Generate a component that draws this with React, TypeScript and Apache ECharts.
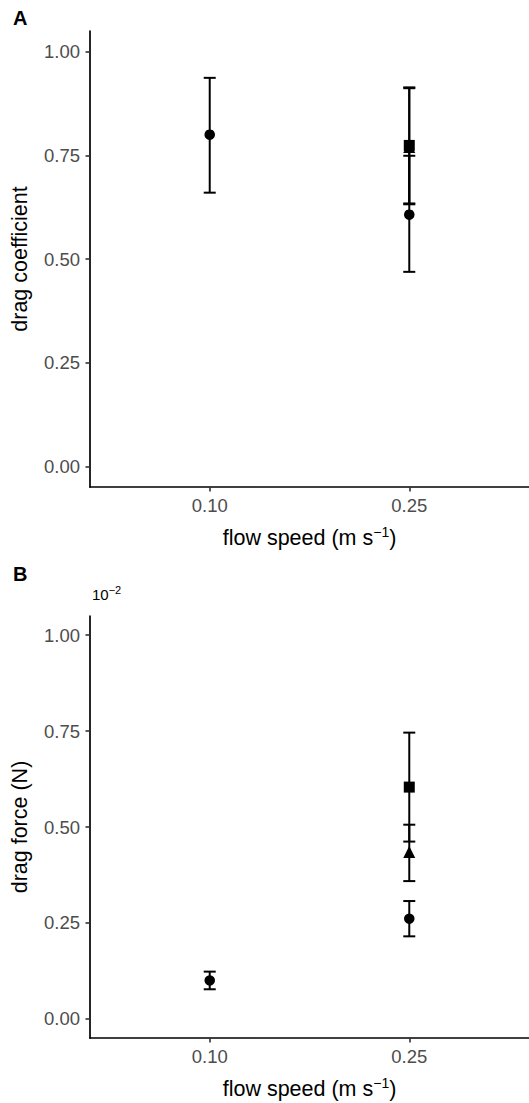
import React, { useEffect, useRef } from "react";
import * as echarts from "echarts";

const FONT = "'Liberation Sans', Arial, Helvetica, sans-serif";

// x positions (flow speed, m/s)
const speeds = [0.1, 0.25];
const yTicks = [0, 0.25, 0.5, 0.75, 1.0];

// Panel A: drag coefficient  [speed, mean, lower, upper]
const circleA = [
  [0.1, 0.8, 0.66, 0.937],
  [0.25, 0.607, 0.469, 0.749],
];
const triangleA = [[0.25, 0.77, 0.632, 0.912]];
const squareA = [[0.25, 0.774, 0.634, 0.914]];

// Panel B: drag force (x 10^-2 N)  [speed, mean, lower, upper]
const circleB = [
  [0.1, 0.1, 0.077, 0.123],
  [0.25, 0.261, 0.215, 0.307],
];
const triangleB = [[0.25, 0.435, 0.359, 0.506]];
const squareB = [[0.25, 0.604, 0.462, 0.746]];

function errorSeries(data: number[][], idx: number) {
  return {
    type: "custom",
    xAxisIndex: idx,
    yAxisIndex: idx,
    data,
    encode: { x: 0, y: 1 },
    z: 2,
    renderItem: (params: any, api: any) => {
      const x = api.value(0);
      const lo = api.value(2);
      const hi = api.value(3);
      const pLo = api.coord([x, lo]);
      const pHi = api.coord([x, hi]);
      const w = 6;
      const st = { stroke: "#000", lineWidth: 2 };
      return {
        type: "group",
        children: [
          { type: "line", shape: { x1: pLo[0], y1: pLo[1], x2: pHi[0], y2: pHi[1] }, style: st },
          { type: "line", shape: { x1: pLo[0] - w, y1: pLo[1], x2: pLo[0] + w, y2: pLo[1] }, style: st },
          { type: "line", shape: { x1: pHi[0] - w, y1: pHi[1], x2: pHi[0] + w, y2: pHi[1] }, style: st },
        ],
      };
    },
  };
}

function pointSeries(data: number[][], idx: number, symbol: string, size: number) {
  return {
    type: "scatter",
    xAxisIndex: idx,
    yAxisIndex: idx,
    data,
    encode: { x: 0, y: 1 },
    symbol,
    symbolSize: size,
    itemStyle: { color: "#000", opacity: 1 },
    z: 3,
  };
}

const xAxisBase = (gridIndex: number) => ({
  type: "value",
  gridIndex,
  min: 0.01,
  max: 0.34,
  name: "flow speed (m s{sup|\u22121})",
  nameLocation: "middle",
  nameGap: 38,
  nameTextStyle: {
    fontSize: 21.5,
    color: "#000",
    fontFamily: FONT,
    rich: {
      sup: { fontSize: 14, color: "#000", fontFamily: FONT, padding: [0, 0, 11, 0] },
    },
  },
  axisLine: { show: true, onZero: false, lineStyle: { color: "#000", width: 1.7 } },
  axisTick: { show: true, length: 4.5, customValues: speeds, lineStyle: { color: "#333", width: 1.6 } },
  axisLabel: {
    customValues: speeds,
    formatter: (v: number) => v.toFixed(2),
    fontSize: 18.5,
    color: "#4D4D4D",
    fontFamily: FONT,
    margin: 9,
  },
  splitLine: { show: false },
});

const yAxisBase = (gridIndex: number, name: string) => ({
  type: "value",
  gridIndex,
  min: -0.05,
  max: 1.05,
  name,
  nameLocation: "middle",
  nameGap: 59,
  nameRotate: 90,
  nameTextStyle: { fontSize: 21.5, color: "#000", fontFamily: FONT },
  axisLine: { show: true, onZero: false, lineStyle: { color: "#000", width: 1.7 } },
  axisTick: { show: true, length: 4.5, customValues: yTicks, lineStyle: { color: "#333", width: 1.6 } },
  axisLabel: {
    customValues: yTicks,
    formatter: (v: number) => v.toFixed(2),
    fontSize: 18.5,
    color: "#4D4D4D",
    fontFamily: FONT,
    margin: 10,
  },
  splitLine: { show: false },
});

export default function App() {
  const ref = useRef<HTMLDivElement>(null);
  useEffect(() => {
    if (!ref.current) return;
    const chart = echarts.init(ref.current, undefined, { renderer: "svg" });
    chart.setOption({
      animation: false,
      backgroundColor: "#fff",
      grid: [
        { left: 90, top: 31, width: 442, height: 456 },
        { left: 90, top: 616, width: 442, height: 422 },
      ],
      xAxis: [xAxisBase(0), xAxisBase(1)],
      yAxis: [yAxisBase(0, "drag coefficient"), yAxisBase(1, "drag force (N)")],
      graphic: [
        {
          type: "text",
          left: 13,
          top: 8,
          style: { text: "A", fontSize: 20, fontWeight: "bold", fontFamily: FONT, fill: "#000" },
        },
        {
          type: "text",
          left: 13,
          top: 564,
          style: { text: "B", fontSize: 20, fontWeight: "bold", fontFamily: FONT, fill: "#000" },
        },
        {
          type: "text",
          left: 92,
          top: 584,
          style: {
            text: "{a|10}{b|\u22122}",
            rich: {
              a: { fontSize: 15, fontFamily: FONT, fill: "#000", color: "#000" },
              b: { fontSize: 11, fontFamily: FONT, fill: "#000", color: "#000", padding: [0, 0, 9, 0] },
            },
          },
        },
      ],
      series: [
        errorSeries(circleA, 0),
        errorSeries(triangleA, 0),
        errorSeries(squareA, 0),
        pointSeries(circleA, 0, "circle", 10.5),
        pointSeries(triangleA, 0, "triangle", 12),
        pointSeries(squareA, 0, "rect", 11),
        errorSeries(circleB, 1),
        errorSeries(triangleB, 1),
        errorSeries(squareB, 1),
        pointSeries(circleB, 1, "circle", 10.5),
        pointSeries(triangleB, 1, "triangle", 12),
        pointSeries(squareB, 1, "rect", 11),
      ],
    });
    return () => chart.dispose();
  }, []);
  return (
    <div
      ref={ref}
      style={{ position: "absolute", left: 0, top: 0, width: 529, height: 1103 }}
    />
  );
}
